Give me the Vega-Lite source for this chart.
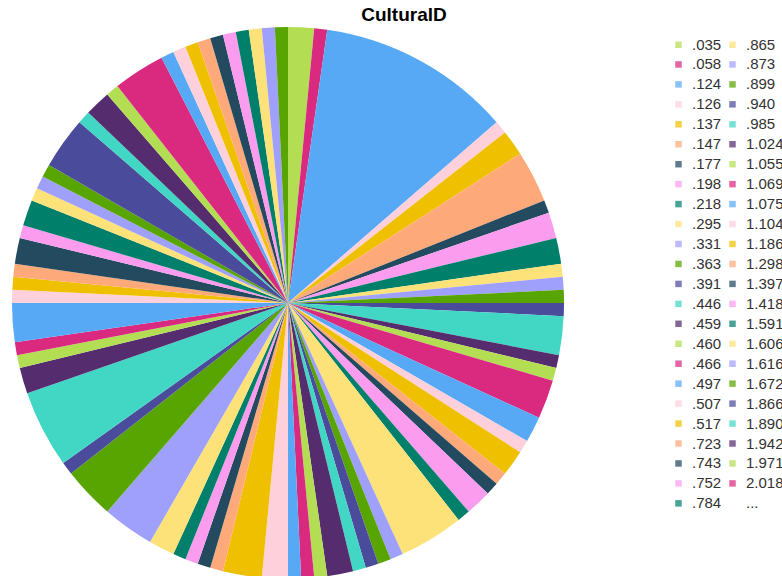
{
  "$schema": "https://vega.github.io/schema/vega-lite/v6.json",
  "autosize": "none",
  "width": 576,
  "height": 546,
  "padding": {"left": 0, "top": 30, "right": 206, "bottom": 0},
  "background": "white",
  "title": {"text": "CulturalD", "anchor": "middle", "frame": "group", "dx": 116, "font": "Liberation Sans", "fontSize": 19, "fontWeight": "bold", "color": "#000000", "offset": 2},
  "config": {"view": {"stroke": null}},
  "data": {"values": [
    {"id": ".035", "n": 2, "k": 1}, {"id": ".058", "n": 1, "k": 2}, {"id": ".124", "n": 15, "k": 3},
    {"id": ".126", "n": 1, "k": 4}, {"id": ".137", "n": 2, "k": 5}, {"id": ".147", "n": 4, "k": 6},
    {"id": ".177", "n": 1, "k": 7}, {"id": ".198", "n": 2, "k": 8}, {"id": ".218", "n": 2, "k": 9},
    {"id": ".295", "n": 1, "k": 10}, {"id": ".331", "n": 1, "k": 11}, {"id": ".363", "n": 1, "k": 12},
    {"id": ".391", "n": 1, "k": 13}, {"id": ".446", "n": 3, "k": 14}, {"id": ".459", "n": 1, "k": 15},
    {"id": ".460", "n": 1, "k": 16}, {"id": ".466", "n": 3, "k": 17}, {"id": ".497", "n": 2, "k": 18},
    {"id": ".507", "n": 1, "k": 19}, {"id": ".517", "n": 2, "k": 20}, {"id": ".723", "n": 1, "k": 21},
    {"id": ".743", "n": 1, "k": 22}, {"id": ".752", "n": 2, "k": 23}, {"id": ".784", "n": 1, "k": 24},
    {"id": ".865", "n": 5, "k": 25}, {"id": ".873", "n": 1, "k": 26}, {"id": ".899", "n": 1, "k": 27},
    {"id": ".940", "n": 1, "k": 28}, {"id": ".985", "n": 1, "k": 29}, {"id": "1.024", "n": 2, "k": 30},
    {"id": "1.055", "n": 1, "k": 31}, {"id": "1.069", "n": 1, "k": 32}, {"id": "1.075", "n": 1, "k": 33},
    {"id": "1.104", "n": 2, "k": 34}, {"id": "1.186", "n": 3, "k": 35}, {"id": "1.298", "n": 1, "k": 36},
    {"id": "1.397", "n": 1, "k": 37}, {"id": "1.418", "n": 1, "k": 38}, {"id": "1.591", "n": 1, "k": 39},
    {"id": "1.606", "n": 2, "k": 40}, {"id": "1.616", "n": 4, "k": 41}, {"id": "1.672", "n": 4, "k": 42},
    {"id": "1.866", "n": 1, "k": 43}, {"id": "1.890", "n": 6, "k": 44}, {"id": "1.942", "n": 2, "k": 45},
    {"id": "1.971", "n": 1, "k": 46}, {"id": "2.018", "n": 1, "k": 47}, {"id": "2.040", "n": 3, "k": 48},
    {"id": "2.091", "n": 1, "k": 49}, {"id": "2.108", "n": 1, "k": 50}, {"id": "2.160", "n": 1, "k": 51},
    {"id": "2.210", "n": 2, "k": 52}, {"id": "2.283", "n": 1, "k": 53}, {"id": "2.306", "n": 2, "k": 54},
    {"id": "2.357", "n": 1, "k": 55}, {"id": "2.415", "n": 1, "k": 56}, {"id": "2.450", "n": 1, "k": 57},
    {"id": "2.512", "n": 4, "k": 58}, {"id": "2.560", "n": 1, "k": 59}, {"id": "2.609", "n": 2, "k": 60},
    {"id": "2.688", "n": 1, "k": 61}, {"id": "2.703", "n": 4, "k": 62}, {"id": "2.760", "n": 1, "k": 63},
    {"id": "2.812", "n": 1, "k": 64}, {"id": "2.877", "n": 1, "k": 65}, {"id": "2.915", "n": 1, "k": 66},
    {"id": "2.987", "n": 1, "k": 67}, {"id": "3.012", "n": 1, "k": 68}, {"id": "3.084", "n": 1, "k": 69},
    {"id": "3.146", "n": 1, "k": 70}, {"id": "3.201", "n": 1, "k": 71}, {"id": "3.290", "n": 1, "k": 72}
  ]},
  "mark": {"type": "arc", "outerRadius": 276, "strokeWidth": 0},
  "encoding": {
    "theta": {"field": "n", "type": "quantitative", "stack": true},
    "order": {"field": "k", "type": "quantitative"},
    "color": {
      "field": "id",
      "type": "nominal",
      "scale": {
        "domain": [".035",".058",".124",".126",".137",".147",".177",".198",".218",".295",".331",".363",".391",".446",".459",".460",".466",".497",".507",".517",".723",".743",".752",".784",".865",".873",".899",".940",".985","1.024","1.055","1.069","1.075","1.104","1.186","1.298","1.397","1.418","1.591","1.606","1.616","1.672","1.866","1.890","1.942","1.971","2.018","2.040","2.091","2.108","2.160","2.210","2.283","2.306","2.357","2.415","2.450","2.512","2.560","2.609","2.688","2.703","2.760","2.812","2.877","2.915","2.987","3.012","3.084","3.146","3.201","3.290","..."],
        "range": ["#b3de54","#d92a80","#57a9f5","#fdd0dc","#efc000","#fda97a","#234a5f","#fb9cef","#00806a","#fde27a","#9f9ffc","#58a400","#4b4b9b","#42d6c5","#552d6f",
                  "#b3de54","#d92a80","#57a9f5","#fdd0dc","#efc000","#fda97a","#234a5f","#fb9cef","#00806a","#fde27a","#9f9ffc","#58a400","#4b4b9b","#42d6c5","#552d6f",
                  "#b3de54","#d92a80","#57a9f5","#fdd0dc","#efc000","#fda97a","#234a5f","#fb9cef","#00806a","#fde27a","#9f9ffc","#58a400","#4b4b9b","#42d6c5","#552d6f",
                  "#b3de54","#d92a80","#57a9f5","#fdd0dc","#efc000","#fda97a","#234a5f","#fb9cef","#00806a","#fde27a","#9f9ffc","#58a400","#4b4b9b","#42d6c5","#552d6f",
                  "#b3de54","#d92a80","#57a9f5","#fdd0dc","#efc000","#fda97a","#234a5f","#fb9cef","#00806a","#fde27a","#9f9ffc","#58a400",
                  "#ffffff"]
      },
      "legend": {
        "title": null,
        "orient": "none",
        "direction": "horizontal",
        "legendX": 671,
        "legendY": 7,
        "columns": 2,
        "symbolLimit": 0,
        "values": [".035",".865",".058",".873",".124",".899",".126",".940",".137",".985",".147","1.024",".177","1.055",".198","1.069",".218","1.075",".295","1.104",".331","1.186",".363","1.298",".391","1.397",".446","1.418",".459","1.591",".460","1.606",".466","1.616",".497","1.672",".507","1.866",".517","1.890",".723","1.942",".743","1.971",".752","2.018",".784","..."],
        "symbolType": "square",
        "symbolSize": 42,
        "symbolStrokeWidth": 0,
        "symbolOpacity": 0.72,
        "labelFont": "Liberation Sans",
        "labelFontSize": 15,
        "labelColor": "#333333",
        "labelOffset": 6,
        "rowPadding": 3.95,
        "columnPadding": 3,
        "padding": 0,
        "labelLimit": 0
      }
    }
  }
}
